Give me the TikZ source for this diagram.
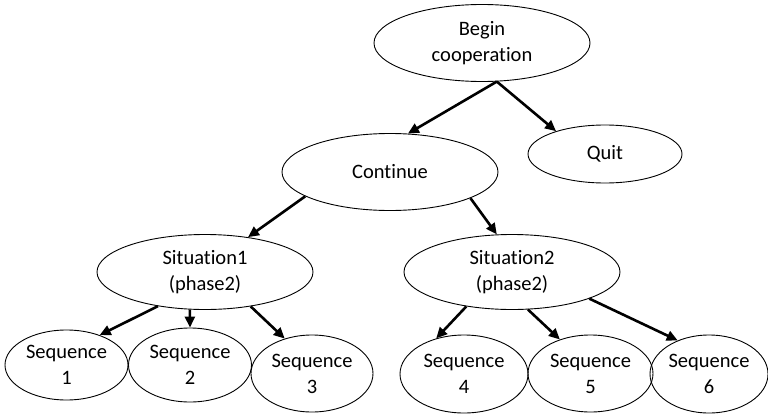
\documentclass[tikz,border=0pt]{standalone}
\usepackage{fontspec}
\setmainfont{Carlito}[Ligatures={NoCommon}]
\usetikzlibrary{shapes.geometric,arrows.meta}

\tikzset{
  bubble/.style={ellipse, draw=black, line width=0.9pt, inner sep=0pt,
    align=center, font=\fontsize{20.5}{26}\selectfont},
  bigbubble/.style={bubble, minimum width=216pt, minimum height=77pt},
  seqbubble/.style={bubble, minimum width=123pt, minimum height=75pt},
  link/.style={line width=2.6pt, -{Triangle[length=11pt,width=10pt]}}
}

\begin{document}
\begin{tikzpicture}[x=1pt, y=-1pt]
\useasboundingbox (0,0) rectangle (768,415);

% upper levels
\node[bigbubble] (begin) at (482,43) {Begin\\cooperation};
\node[bubble, minimum width=154pt, minimum height=58pt] (quit) at (605,154) {Quit};
\node[bigbubble] (cont) at (390,172) {Continue};
\node[bigbubble, minimum height=75pt] (sit1) at (205,272) {Situation1\\(phase2)};
\node[bigbubble, minimum height=75pt] (sit2) at (512,272) {Situation2\\(phase2)};

% sequences
\node[seqbubble, minimum height=70pt] (seq1) at (66.5,365) {Sequence\\1};
\node[seqbubble, minimum height=74pt] (seq2) at (190,365) {Sequence\\2};
\node[seqbubble, minimum width=122pt, minimum height=77pt] (seq3) at (312,373.5) {Sequence\\3};
\node[seqbubble, minimum width=128pt, minimum height=78pt] (seq4) at (464,374) {Sequence\\4};
\node[seqbubble, minimum width=125pt, minimum height=77pt] (seq5) at (590.5,373.5) {Sequence\\5};
\node[seqbubble, minimum width=118pt, minimum height=78pt] (seq6) at (709,374) {Sequence\\6};

% connectors
\draw[link] (begin.-69) -- (cont.65);
\draw[link] (begin.-69) -- (quit.155);
\draw[link] (cont.196) -- (sit1.39);
\draw[link] (cont.-18) -- (sit2.112);
\draw[link] (sit1.216) -- (seq1.42);
\draw[link] (sit1.248) -- (seq2.90);
\draw[link] (sit1.323) -- (seq3.128);
\draw[link] (sit2.217) -- (seq4.128);
\draw[link] (sit2.293) -- (seq5.132);
\draw[link] (sit2.341) -- (seq6.133);
\end{tikzpicture}
\end{document}
